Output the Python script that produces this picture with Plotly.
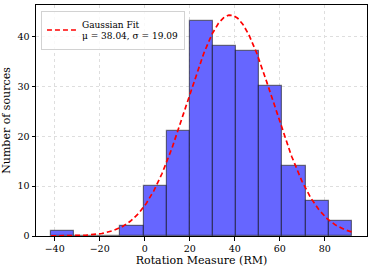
import numpy as np
import plotly.graph_objects as go

# Histogram data
bin_edges = [-41.6, -31.3, -21.0, -10.75, -0.47, 9.8, 20.1, 30.4, 40.6, 50.9, 61.2, 71.5, 81.8, 92.1]
counts = [1, 0, 0, 2, 10, 21, 43, 38, 37, 30, 14, 7, 3]

# Gaussian fit parameters (from the legend)
mu = 38.04
sigma = 19.09

x_tick_vals = [-40, -20, 0, 20, 40, 60, 80]
y_tick_vals = [0, 10, 20, 30, 40]

edges = np.array(bin_edges)
centers = (edges[:-1] + edges[1:]) / 2
widths = edges[1:] - edges[:-1]
n_total = sum(counts)
bw = widths.mean()

xs = np.linspace(edges[0], edges[-1], 400)
ys = n_total * bw / (sigma * np.sqrt(2 * np.pi)) * np.exp(-0.5 * ((xs - mu) / sigma) ** 2)

fig = go.Figure()
fig.add_trace(go.Bar(
    x=centers, y=counts, width=widths,
    marker=dict(color="rgb(102,102,255)", line=dict(color="rgba(0,0,0,0.5)", width=1.2)),
    showlegend=False, hoverinfo="skip",
))
fig.add_trace(go.Scatter(
    x=xs, y=ys, mode="lines",
    line=dict(color="red", width=1.7, dash="5px,3px"),
    name="Gaussian Fit<br>μ = 38.04, σ = 19.09",
))

font_family = "DejaVu Serif"
grid_color = "rgb(222,222,222)"
fig.update_layout(
    width=373, height=270,
    margin=dict(l=36, r=6, t=5, b=34),
    plot_bgcolor="white", paper_bgcolor="white",
    bargap=0,
    font=dict(family=font_family, color="black", size=9),
    legend=dict(
        x=0.015, y=0.975, xanchor="left", yanchor="top",
        bgcolor="rgba(255,255,255,0.8)", bordercolor="rgb(210,210,210)", borderwidth=1,
        font=dict(family=font_family, size=9, color="black"),
        itemwidth=30, tracegroupgap=0,
    ),
    xaxis=dict(
        range=[-48.3, 98.8], tickvals=x_tick_vals,
        ticktext=[("\u2212" + str(-v)) if v < 0 else str(v) for v in x_tick_vals],
        showline=True, linecolor="black", linewidth=1, mirror=True,
        ticks="outside", ticklen=3.5, tickcolor="black",
        showgrid=True, gridcolor=grid_color, griddash="dot", gridwidth=0.8,
        zeroline=False,
        title=dict(text="Rotation Measure (RM)", font=dict(size=11), standoff=3),
        tickfont=dict(size=9.5),
    ),
    yaxis=dict(
        range=[0, 46.3], tickvals=y_tick_vals,
        showline=True, linecolor="black", linewidth=1, mirror=True,
        ticks="outside", ticklen=3.5, tickcolor="black",
        showgrid=True, gridcolor=grid_color, griddash="dot", gridwidth=0.8,
        zeroline=False,
        title=dict(text="Number of sources", font=dict(size=11), standoff=4),
        tickfont=dict(size=9.5),
    ),
)

fig.write_html(
    "out.html",
    config={"displayModeBar": False},
    post_script="document.body.style.margin='0';document.body.style.overflow='hidden';",
)
